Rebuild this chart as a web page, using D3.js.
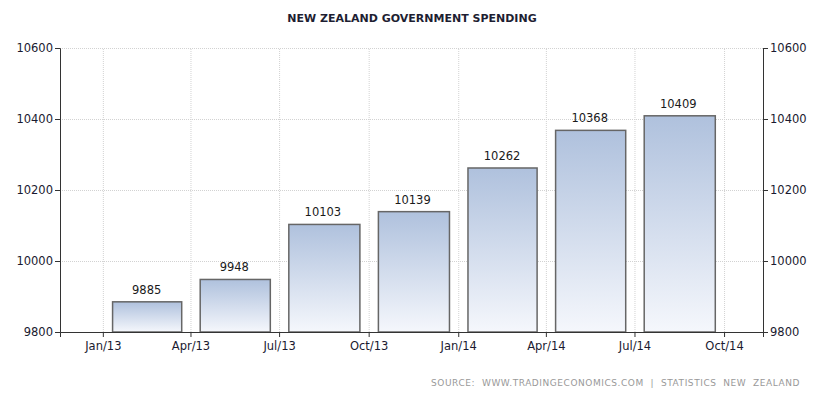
<!DOCTYPE html>
<html>
<head>
<meta charset="utf-8">
<script src="https://cdnjs.cloudflare.com/ajax/libs/d3/7.8.5/d3.min.js"></script>
<style>
  body { margin: 0; background: #fff; }
  text { font-family: "DejaVu Sans", Verdana, sans-serif; }
  .axis path, .axis line { stroke: #333; }
  .axis text { fill: #1a1a30; font-size: 11.5px; }
  .grid line { stroke: #d2d2d2; stroke-dasharray: 1,1; }
  .grid path { display: none; }
</style>
</head>
<body>
<script>
// quarterly data (start month of each quarter)
const quarters = ["2013-01", "2013-04", "2013-07", "2013-10", "2014-01", "2014-04", "2014-07"];
const spending = [9885, 9948, 10103, 10139, 10262, 10368, 10409];
const yTicks = [9800, 10000, 10200, 10400, 10600];
const xTicks = ["2013-01", "2013-04", "2013-07", "2013-10", "2014-01", "2014-04", "2014-07", "2014-10"];

const parseMonth = d3.timeParse("%Y-%m");
const data = quarters.map((q, i) => ({start: parseMonth(q), value: spending[i]}));

const W = 817, H = 393;
const margin = {top: 48, right: 54, bottom: 61, left: 60};
const width = W - margin.left - margin.right,
      height = H - margin.top - margin.bottom;

const x = d3.scaleTime()
    .domain([new Date(2012, 10, 18), new Date(2014, 10, 10)])
    .range([0, width]);

const y = d3.scaleLinear()
    .domain([9800, 10600])
    .range([height, 0]);

const svg = d3.select("body").append("svg")
    .attr("width", W)
    .attr("height", H);

const defs = svg.append("defs");
const grad = defs.append("linearGradient")
    .attr("id", "barGrad")
    .attr("x1", 0).attr("y1", 0).attr("x2", 0).attr("y2", 1);
grad.append("stop").attr("offset", "0%").attr("stop-color", "#afc1dd");
grad.append("stop").attr("offset", "100%").attr("stop-color", "#f5f7fc");

const g = svg.append("g")
    .attr("transform", `translate(${margin.left},${margin.top})`);

// gridlines
g.append("g")
    .attr("class", "grid")
    .call(d3.axisLeft(y).tickValues(yTicks).tickSize(-width).tickFormat(""));

g.append("g")
    .attr("class", "grid")
    .attr("transform", `translate(0,${height})`)
    .call(d3.axisBottom(x).tickValues(xTicks.map(parseMonth)).tickSize(-height).tickFormat(""));

// bars
const pad = 10; // days of padding at each end of quarter
g.selectAll(".bar")
  .data(data)
  .join("rect")
    .attr("class", "bar")
    .attr("x", d => x(d3.timeDay.offset(d.start, pad)))
    .attr("width", d => x(d3.timeDay.offset(d3.timeMonth.offset(d.start, 3), -pad + 1)) - x(d3.timeDay.offset(d.start, pad)))
    .attr("y", d => y(d.value))
    .attr("height", d => height - y(d.value))
    .attr("fill", "url(#barGrad)")
    .attr("stroke", "#666")
    .attr("stroke-width", 1.5);

// value labels
g.selectAll(".vlabel")
  .data(data)
  .join("text")
    .attr("class", "vlabel")
    .attr("x", d => x(d3.timeDay.offset(d.start, 45)))
    .attr("y", d => y(d.value) - 8)
    .attr("text-anchor", "middle")
    .attr("font-size", "11.5px")
    .attr("fill", "#1a1a1a")
    .text(d => d.value);

// axes
const fmt = d3.timeFormat("%b/%y");
g.append("g")
    .attr("class", "axis")
    .attr("transform", `translate(0,${height})`)
    .call(d3.axisBottom(x).tickValues(xTicks.map(parseMonth)).tickSizeOuter(0).tickSize(5).tickPadding(5).tickFormat(fmt));

g.append("g")
    .attr("class", "axis")
    .call(d3.axisLeft(y).tickValues(yTicks).tickSizeOuter(0).tickSize(5).tickPadding(2).tickFormat(d3.format("d")));

g.append("g")
    .attr("class", "axis")
    .attr("transform", `translate(${width},0)`)
    .call(d3.axisRight(y).tickValues(yTicks).tickSizeOuter(0).tickSize(5).tickPadding(2).tickFormat(d3.format("d")));

// title
svg.append("text")
    .attr("x", 412)
    .attr("y", 22)
    .attr("text-anchor", "middle")
    .attr("font-size", "11px")
    .attr("font-weight", "bold")
    .attr("fill", "#1e1e32")
    .text("NEW ZEALAND GOVERNMENT SPENDING");

// source
svg.append("text")
    .attr("x", 800)
    .attr("y", 386)
    .attr("text-anchor", "end")
    .attr("font-size", "9px")
    .attr("fill", "#999")
    .attr("letter-spacing", "0.55px")
    .style("white-space", "pre")
    .text("SOURCE:  WWW.TRADINGECONOMICS.COM  |  STATISTICS  NEW  ZEALAND");
</script>
</body>
</html>
